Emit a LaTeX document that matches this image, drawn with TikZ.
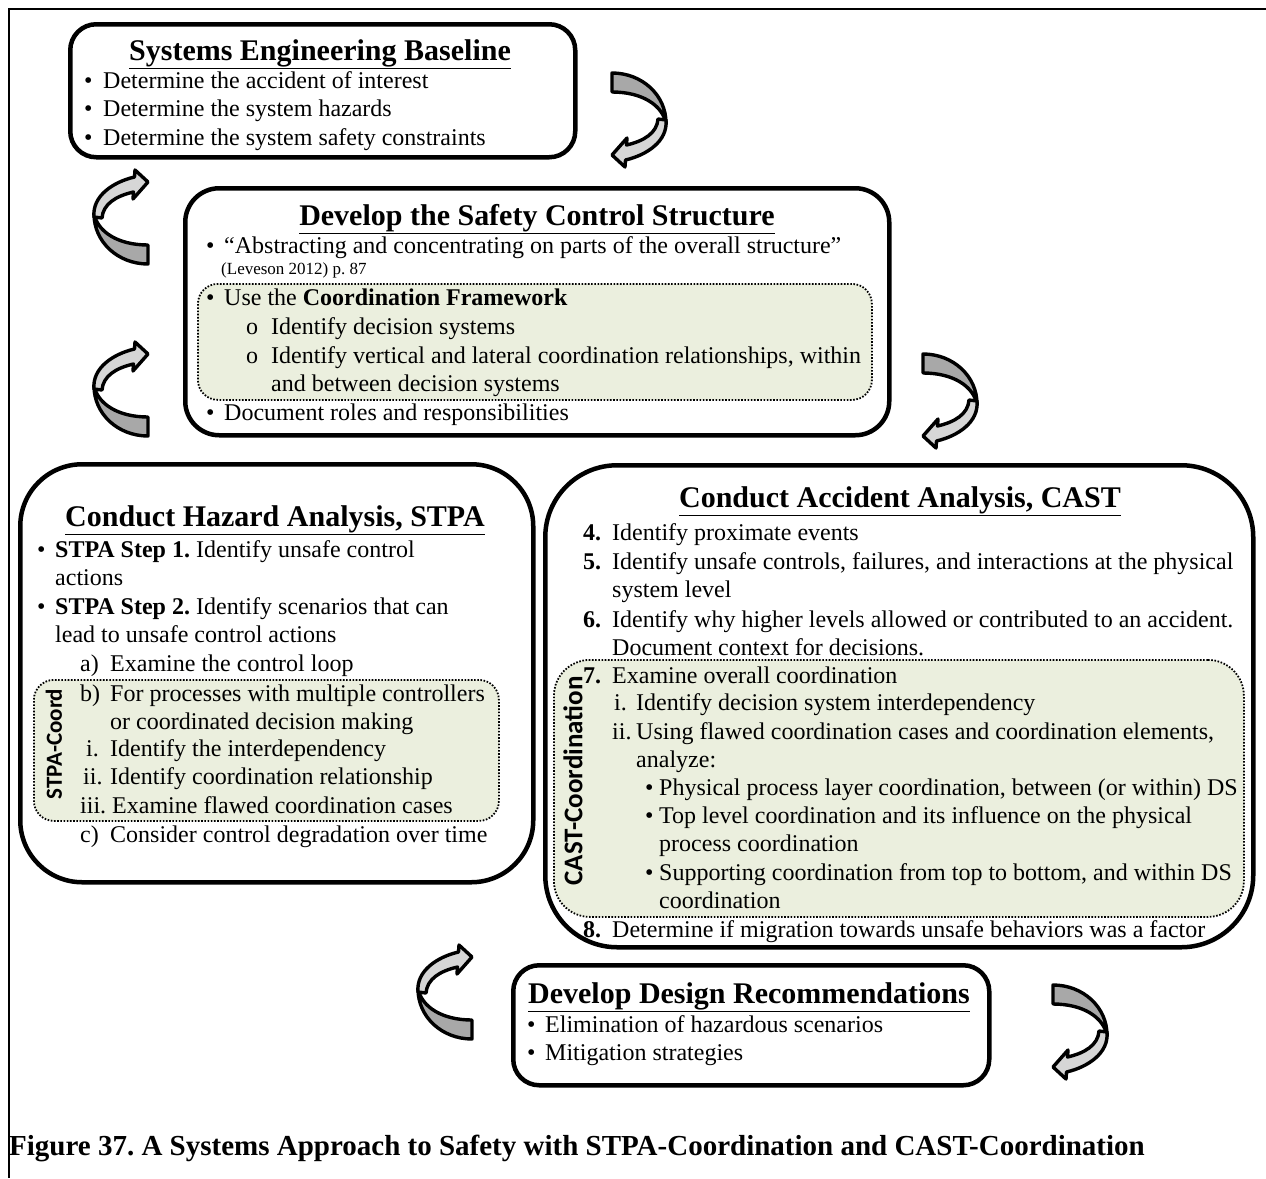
\documentclass[tikz,border=0pt]{standalone}
\usepackage{fontspec}
\setmainfont{Liberation Serif}
\newfontfamily\labfont{Carlito}
\frenchspacing
\begin{document}
\begin{tikzpicture}[x=1pt,y=-1pt,
  frame/.style={line width=2.8pt},
  mainbox/.style={draw, line width=4.5pt, fill=white},
  greenbox/.style={draw, line width=1.8pt, dash pattern=on 1.6pt off 1.6pt, fill=coordfill},
  txt/.style={anchor=base west, inner sep=0pt, font=\fontsize{24}{28}\selectfont},
  small/.style={anchor=base west, inner sep=0pt, font=\fontsize{17}{19}\selectfont},
  ttl/.style={anchor=base, inner sep=0pt, font=\fontsize{30}{34}\selectfont\bfseries},
  vlab/.style={rotate=90, inner sep=0pt, font=\labfont\bfseries\fontsize{#1}{#1}\selectfont},
  arrowdark/.style={draw, fill=arrowgray, line width=3.4pt, line join=round},
  arrowlight/.style={draw, fill=arrowlite, line width=3.4pt, line join=round},
  turnarrow/.pic={
    % tapered upper band, from the tail to the turning point
    \path[arrowdark] (0,0) .. controls (30,0) and (54,22) .. (54,50)
      .. controls (50,32) and (30,19) .. (0,19) -- cycle;
    % lower band with its head
    \path[arrowlight] (46,46) .. controls (45,60) and (32,68) .. (14.5,72)
      -- (15,65) -- (0,82) -- (13,94) -- (13.5,87)
      .. controls (35,82) and (56,68) .. (54,47) -- cycle;
  }
]
\definecolor{coordfill}{RGB}{235,239,222}
\definecolor{arrowgray}{RGB}{168,168,168}
\definecolor{arrowlite}{RGB}{214,214,214}

\useasboundingbox (0,0) rectangle (1266,1178);

% outer frame: top and left rules
\coordinate (ftl) at (9,9);
\coordinate (ftr) at (1266,9);
\coordinate (fbl) at (9,1178);
\draw[frame] (ftr) -- (ftl) -- (fbl);

% ---------- Systems Engineering Baseline ----------
\node[mainbox, rounded corners=26pt, minimum width=505pt, minimum height=133pt, anchor=north west] (b1) at (68,22) {};
\node[ttl] (b1t) at (320,60) {\underline{Systems Engineering Baseline}};
\node[txt] (b1m1) at (84,88) {•};
\node[txt] (b1l1) at (103,88) {Determine the accident of interest};
\node[txt] (b1m2) at (84,116) {•};
\node[txt] (b1l2) at (103,116) {Determine the system hazards};
\node[txt] (b1m3) at (84,145) {•};
\node[txt] (b1l3) at (103,145) {Determine the system safety constraints};

% ---------- Develop the Safety Control Structure ----------
\node[mainbox, rounded corners=34pt, minimum width=704pt, minimum height=247pt, anchor=north west] (b2) at (183,186) {};
\node[greenbox, rounded corners=20pt, minimum width=674pt, minimum height=116pt, anchor=north west] (g2) at (197,283) {};
\node[ttl] (b2t) at (537,225) {\underline{Develop the Safety Control Structure}};
\node[txt] (b2m1) at (206,253) {•};
\node[txt] (b2l1) at (224,253) {“Abstracting and concentrating on parts of the overall structure”};
\node[small] (b2ref) at (221,274) {(Leveson 2012) p. 87};
\node[txt] (b2m2) at (206,305) {•};
\node[txt] (b2l2) at (224,305) {Use the \textbf{Coordination Framework}};
\node[txt] (b2o1) at (246,334) {o};
\node[txt] (b2l3) at (271,334) {Identify decision systems};
\node[txt] (b2o2) at (246,363) {o};
\node[txt] (b2l4) at (271,363) {Identify vertical and lateral coordination relationships, within};
\node[txt] (b2l5) at (271,391) {and between decision systems};
\node[txt] (b2m3) at (206,420) {•};
\node[txt] (b2l6) at (224,420) {Document roles and responsibilities};

% ---------- Conduct Hazard Analysis, STPA ----------
\node[mainbox, rounded corners=62pt, minimum width=513pt, minimum height=418pt, anchor=north west] (b3) at (18,462) {};
\node[greenbox, rounded corners=20pt, minimum width=465pt, minimum height=141pt, anchor=north west] (g3) at (33,679) {};
\node[ttl] (b3t) at (275,526) {\underline{Conduct Hazard Analysis, STPA}};
\node[txt] (b3m1) at (37,557) {•};
\node[txt] (b3l1) at (55,557) {\textbf{STPA Step 1.} Identify unsafe control};
\node[txt] (b3l2) at (55,585) {actions};
\node[txt] (b3m2) at (37,614) {•};
\node[txt] (b3l3) at (55,614) {\textbf{STPA Step 2.} Identify scenarios that can};
\node[txt] (b3l4) at (55,642) {lead to unsafe control actions};
\node[txt] (b3a) at (80,671) {a)};
\node[txt] (b3l5) at (110,671) {Examine the control loop};
\node[txt] (b3b) at (80,701) {b)};
\node[txt] (b3l6) at (110,701) {For processes with multiple controllers};
\node[txt] (b3l7) at (110,729) {or coordinated decision making};
\node[txt] (b3i) at (86,756) {i.};
\node[txt] (b3l8) at (110,756) {Identify the interdependency};
\node[txt] (b3ii) at (83,784) {ii.};
\node[txt] (b3l9) at (110,784) {Identify coordination relationship};
\node[txt] (b3l10) at (80,813) {iii. Examine flawed coordination cases};
\node[txt] (b3c) at (80,842) {c)};
\node[txt] (b3l11) at (110,842) {Consider control degradation over time};
\node[vlab=23] (stpalab) at (54,744) {STPA-Coord};

% ---------- Conduct Accident Analysis, CAST ----------
\node[mainbox, rounded corners=72pt, minimum width=708pt, minimum height=482pt, anchor=north west] (b4) at (543,463) {};
\node[greenbox, rounded corners=36pt, minimum width=690pt, minimum height=257pt, anchor=north west] (g4) at (553,659) {};
\node[ttl] (b4t) at (900,507) {\underline{Conduct Accident Analysis, CAST}};
\node[txt] (b4n4) at (583,540) {\textbf{4.}};
\node[txt] (b4l1) at (612,540) {Identify proximate events};
\node[txt] (b4n5) at (583,569) {\textbf{5.}};
\node[txt] (b4l2) at (612,569) {Identify unsafe controls, failures, and interactions at the physical};
\node[txt] (b4l3) at (612,597) {system level};
\node[txt] (b4n6) at (583,627) {\textbf{6.}};
\node[txt] (b4l4) at (612,627) {Identify why higher levels allowed or contributed to an accident.};
\node[txt] (b4l5) at (612,655) {Document context for decisions.};
\node[txt] (b4n7) at (583,683) {\textbf{7.}};
\node[txt] (b4l6) at (612,683) {Examine overall coordination};
\node[txt] (b4i) at (614,710) {i.};
\node[txt] (b4l7) at (636,710) {Identify decision system interdependency};
\node[txt] (b4ii) at (612,739) {ii.};
\node[txt] (b4l8) at (636,739) {Using flawed coordination cases and coordination elements,};
\node[txt] (b4l9) at (636,767) {analyze:};
\node[txt] (b4m1) at (645,795) {•};
\node[txt] (b4l10) at (659,795) {Physical process layer coordination, between (or within) DS};
\node[txt] (b4m2) at (645,823) {•};
\node[txt] (b4l11) at (659,823) {Top level coordination and its influence on the physical};
\node[txt] (b4l12) at (659,851) {process coordination};
\node[txt] (b4m3) at (645,880) {•};
\node[txt] (b4l13) at (659,880) {Supporting coordination from top to bottom, and within DS};
\node[txt] (b4l14) at (659,908) {coordination};
\node[txt] (b4n8) at (583,937) {\textbf{8.}};
\node[txt] (b4l15) at (612,937) {Determine if migration towards unsafe behaviors was a factor};
\node[vlab=27] (castlab) at (573,781) {CAST-Coordination};

% ---------- Develop Design Recommendations ----------
\node[mainbox, rounded corners=26pt, minimum width=476pt, minimum height=120pt, anchor=north west] (b5) at (511,963) {};
\node[ttl] (b5t) at (749,1003) {\underline{Develop Design Recommendations}};
\node[txt] (b5m1) at (527,1032) {•};
\node[txt] (b5l1) at (545,1032) {Elimination of hazardous scenarios};
\node[txt] (b5m2) at (527,1060) {•};
\node[txt] (b5l2) at (545,1060) {Mitigation strategies};

% ---------- turning arrows between the stages ----------
\pic at (612,73) {turnarrow};
\pic[rotate=180] at (148,264) {turnarrow};
\pic[rotate=180] at (148,436) {turnarrow};
\pic at (923,354) {turnarrow};
\pic[rotate=180] at (472,1039) {turnarrow};
\pic at (1053,985) {turnarrow};

% ---------- caption ----------
\node[anchor=base west, inner sep=0pt, font=\fontsize{29}{32}\selectfont\bfseries] (cap) at (9,1155)
  {Figure 37. A Systems Approach to Safety with STPA-Coordination and CAST-Coordination};
\end{tikzpicture}
\end{document}
